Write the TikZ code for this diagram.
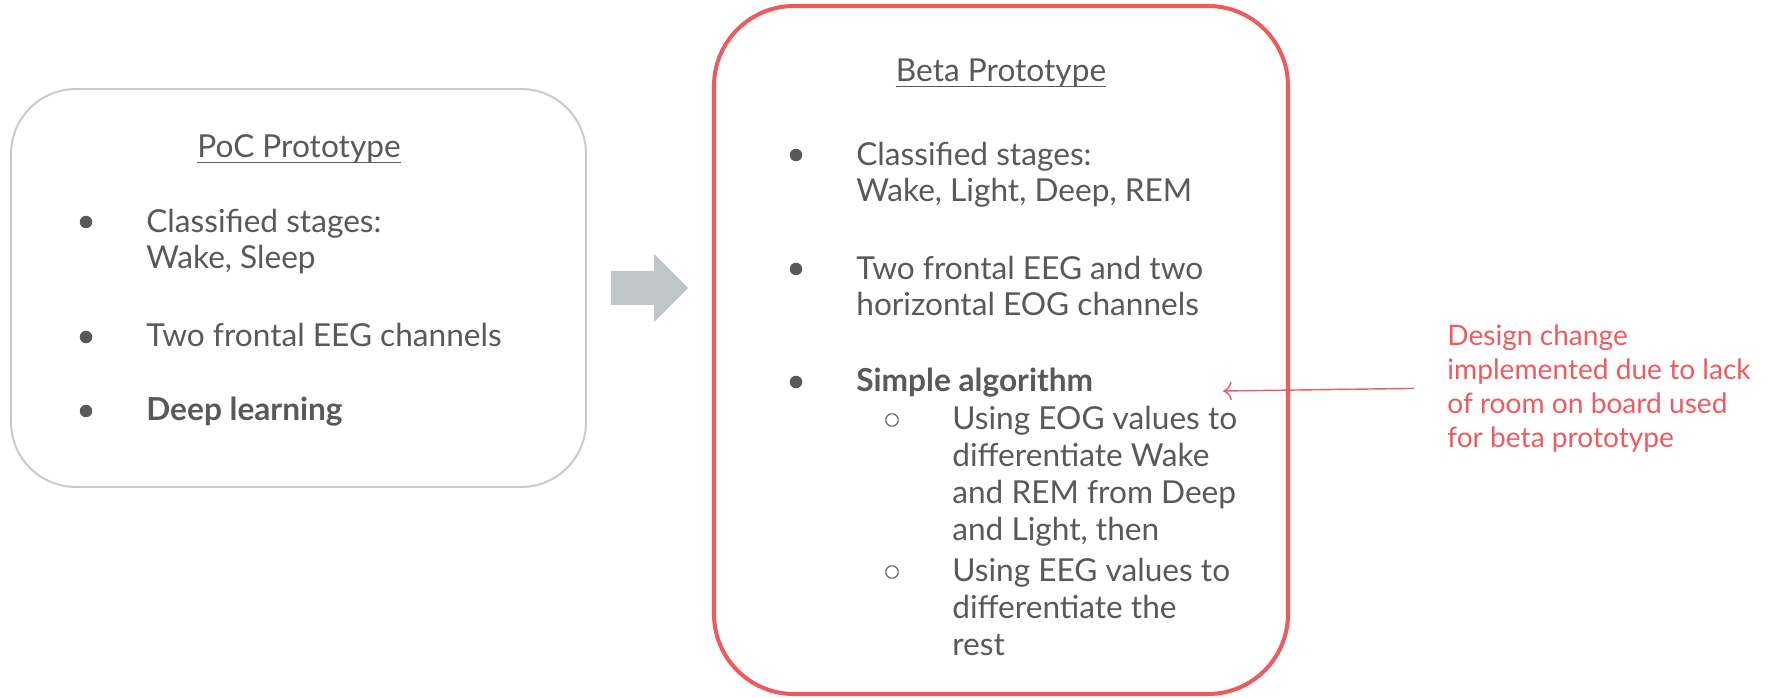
\documentclass[tikz,border=0pt]{standalone}
\usepackage{fontspec}
\setmainfont{Lato}
\usetikzlibrary{arrows.meta}
\definecolor{txtgray}{HTML}{595959}
\definecolor{boxgray}{HTML}{C3CBCB}
\definecolor{arrgray}{HTML}{BFC7C9}
\definecolor{notered}{HTML}{EE5B5F}

\begin{document}
\begin{tikzpicture}[
    item/.style={anchor=base west, align=left, inner sep=0pt, text=txtgray, font=\fontsize{18}{21}\selectfont},
    title/.style={anchor=base, inner sep=0pt, text=txtgray, font=\fontsize{18}{21}\selectfont},
    dot/.style={circle, fill=txtgray, inner sep=0pt, minimum size=0.25cm},
    ring/.style={circle, draw=txtgray, line width=0.6pt, inner sep=0pt, minimum size=0.25cm},
    note/.style={anchor=base west, align=left, inner sep=0pt, text=notered, font=\fontsize{16}{19.4}\selectfont},
  ]
  \useasboundingbox (0,0) rectangle (35.42,13.94);
  \draw[boxgray, line width=1.1pt, rounded corners=1.3cm] (0.22,4.2) rectangle (11.72,12.16); % poc
  \draw[notered, line width=2.3pt, rounded corners=1.6cm] (14.28,0.06) rectangle (25.76,13.82); % beta
  \fill[arrgray] (12.22,7.84) -- (13.08,7.84) -- (13.08,7.5) -- (13.76,8.18) -- (13.08,8.86) -- (13.08,8.52) -- (12.22,8.52) -- cycle;

  % multi-line nodes sit on the baseline of their last line
  \node[title] (poc) at (5.98,10.78) {PoC Prototype};
  \draw[txtgray, line width=0.6pt] ([yshift=-2.5pt]poc.base west) -- ([yshift=-2.5pt]poc.base east);
  \node[dot] (pd1) at (1.72,9.50) {};
  \node[item] (ps1) at (2.92,8.56) {Classified stages:\\Wake, Sleep};
  \node[dot] (pd2) at (1.72,7.20) {};
  \node[item] (ps2) at (2.92,7.00) {Two frontal EEG channels};
  \node[dot] (pd3) at (1.72,5.72) {};
  \node[item, font=\fontsize{18}{21}\selectfont\bfseries] (ps3) at (2.92,5.52) {Deep learning};

  \node[title] (beta) at (20.02,12.30) {Beta Prototype};
  \draw[txtgray, line width=0.6pt] ([yshift=-2.5pt]beta.base west) -- ([yshift=-2.5pt]beta.base east);
  \node[dot] (bd1) at (15.92,10.84) {};
  \node[item] (bs1) at (17.12,9.90) {Classified stages:\\Wake, Light, Deep, REM};
  \node[dot] (bd2) at (15.92,8.56) {};
  \node[item] (bs2) at (17.12,7.62) {Two frontal EEG and two\\horizontal EOG channels};
  \node[dot] (bd3) at (15.92,6.30) {};
  \node[item, font=\fontsize{18}{21}\selectfont\bfseries] (bs3) at (17.12,6.10) {Simple algorithm};
  \node[ring] (br1) at (17.84,5.54) {};
  \node[item] (bt1) at (19.04,3.126) {Using EOG values to\\differentiate Wake\\and REM from Deep\\and Light, then};
  \node[ring] (br2) at (17.84,2.50) {};
  \node[item] (bt2) at (19.04,0.824) {Using EEG values to\\differentiate the\\rest};

  \node[note] (note) at (28.94,4.99) {Design change\\implemented due to lack\\of room on board used\\for beta prototype};
  \coordinate (tip) at (24.46,6.12);
  \draw[notered, line width=0.8pt, -{To[length=5pt]}] ([xshift=-0.66cm]note.west) -- (tip);
\end{tikzpicture}
\end{document}
